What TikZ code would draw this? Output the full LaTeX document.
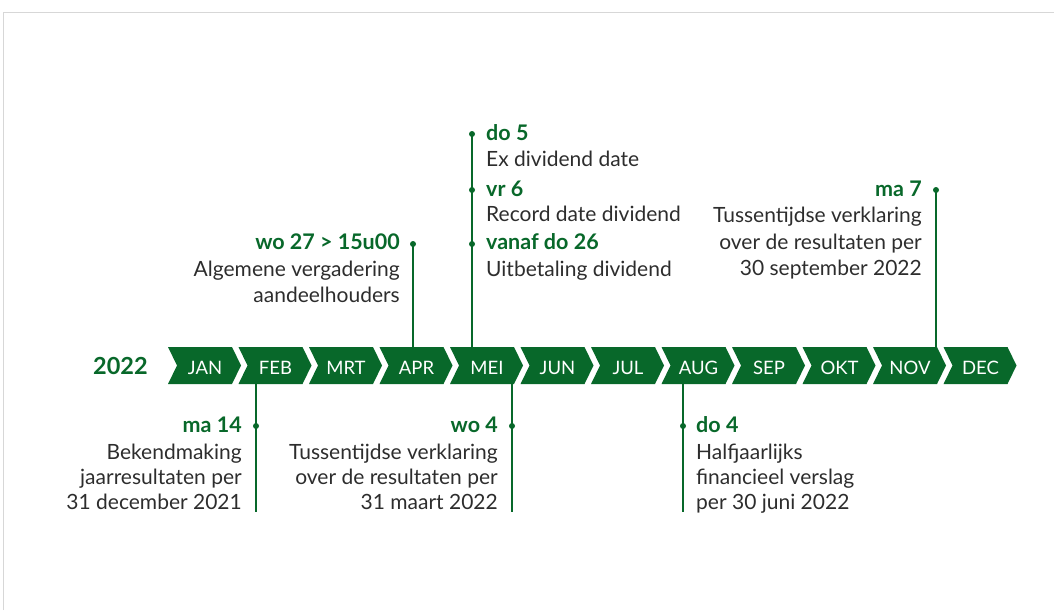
\documentclass[tikz,border=0pt]{standalone}
\usepackage{fontspec}
\setmainfont{Lato}
\definecolor{ggreen}{RGB}{8,104,42}
\definecolor{ttext}{RGB}{45,45,45}
\definecolor{framegray}{RGB}{215,215,215}
\tikzset{
  ttl/.style={inner sep=0pt, text=ggreen, font=\fontsize{21.5}{21.5}\selectfont\bfseries},
  bodytxt/.style={inner sep=0pt, text=ttext, font=\fontsize{21}{21}\selectfont},
  monthlbl/.style={inner sep=0pt, text=white, font=\fontsize{18.5}{18.5}\selectfont},
  dotnode/.style={circle, fill=ggreen, inner sep=0pt, minimum size=6pt},
  conn/.style={draw=ggreen, line width=1.5pt},
  chev/.style={fill=ggreen}
}
\begin{document}
\begin{tikzpicture}[x=1pt,y=-1pt]
\useasboundingbox (0,0) rectangle (1054,610);
\draw[framegray, line width=1.5pt] (3.5,610) -- (3.5,12.5) -- (1054,12.5);

% year
\node[inner sep=0pt, text=ggreen, font=\fontsize{23.5}{23.5}\selectfont\bfseries, anchor=base west] (year) at (93,374) {2022};

% chevrons
\foreach \m [count=\i from 0] in {JAN,FEB,MRT,APR,MEI,JUN,JUL,AUG,SEP,OKT,NOV,DEC}{
  \pgfmathsetmacro{\xo}{168+70.5*\i}
  \fill[chev] (\xo,347) -- (\xo+64,347) -- (\xo+73,365.5) -- (\xo+64,384) -- (\xo,384) -- (\xo+9,365.5) -- cycle;
  \node[monthlbl] (m\i) at (\xo+37,367.5) {\m};
}

% connector end points on chevrons
\coordinate (eApr) at (413,347);
\coordinate (eMeiT) at (472,347);
\coordinate (eNov) at (936,347);
\coordinate (sFeb) at (256,384);
\coordinate (eFeb) at (256,512);
\coordinate (sMeiB) at (512,384);
\coordinate (eMeiB) at (512,512);
\coordinate (sAug) at (683,384);
\coordinate (eAug) at (683,512);
\coordinate (tMei) at (472,132);

% APR
\node[dotnode] (dApr) at (413,244) {};
\draw[conn] (dApr.center) -- (eApr);
\node[ttl, anchor=base east] (tApr) at (400,249) {wo 27 > 15u00};
\node[bodytxt, anchor=base east] (bApr1) at (400,276) {Algemene vergadering};
\node[bodytxt, anchor=base east] (bApr2) at (400,302) {aandeelhouders};

% MEI top
\node[dotnode] (dMei1) at (472,134) {};
\node[dotnode] (dMei2) at (472,190) {};
\node[dotnode] (dMei3) at (472,244) {};
\draw[conn] (tMei) -- (eMeiT);
\node[ttl, anchor=base west] (tMei1) at (486,140) {do 5};
\node[bodytxt, anchor=base west] (bMei1) at (486,166) {Ex dividend date};
\node[ttl, anchor=base west] (tMei2) at (486,196) {vr 6};
\node[bodytxt, anchor=base west] (bMei2) at (486,221) {Record date dividend};
\node[ttl, anchor=base west] (tMei3) at (486,249) {vanaf do 26};
\node[bodytxt, anchor=base west] (bMei3) at (486,276) {Uitbetaling dividend};

% NOV
\node[dotnode] (dNov) at (936,190) {};
\draw[conn] (dNov.center) -- (eNov);
\node[ttl, anchor=base east] (tNov) at (922,196) {ma 7};
\node[bodytxt, anchor=base east] (bNov1) at (922,222) {Tussentijdse verklaring};
\node[bodytxt, anchor=base east] (bNov2) at (922,249) {over de resultaten per};
\node[bodytxt, anchor=base east] (bNov3) at (922,275) {30 september 2022};

% FEB
\node[dotnode] (dFeb) at (256,426) {};
\draw[conn] (sFeb) -- (eFeb);
\node[ttl, anchor=base east] (tFeb) at (242,432) {ma 14};
\node[bodytxt, anchor=base east] (bFeb1) at (242,459) {Bekendmaking};
\node[bodytxt, anchor=base east] (bFeb2) at (242,484) {jaarresultaten per};
\node[bodytxt, anchor=base east] (bFeb3) at (242,509) {31 december 2021};

% MEI bottom
\node[dotnode] (dMeiB) at (512,426) {};
\draw[conn] (sMeiB) -- (eMeiB);
\node[ttl, anchor=base east] (tMeiB) at (498,432) {wo 4};
\node[bodytxt, anchor=base east] (bMeiB1) at (498,459) {Tussentijdse verklaring};
\node[bodytxt, anchor=base east] (bMeiB2) at (498,484) {over de resultaten per};
\node[bodytxt, anchor=base east] (bMeiB3) at (498,509) {31 maart 2022};

% AUG
\node[dotnode] (dAug) at (683,426) {};
\draw[conn] (sAug) -- (eAug);
\node[ttl, anchor=base west] (tAug) at (696,432) {do 4};
\node[bodytxt, anchor=base west] (bAug1) at (696,459) {Halfjaarlijks};
\node[bodytxt, anchor=base west] (bAug2) at (696,484) {financieel verslag};
\node[bodytxt, anchor=base west] (bAug3) at (696,509) {per 30 juni 2022};
\end{tikzpicture}
\end{document}
